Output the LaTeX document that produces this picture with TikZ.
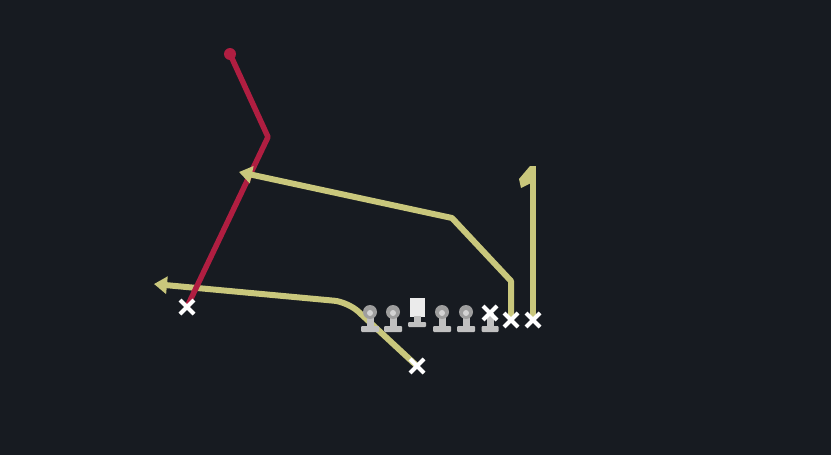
\documentclass[tikz,border=0pt]{standalone}
\usetikzlibrary{arrows.meta,shapes.misc}
\definecolor{field}{RGB}{23,27,33}
\definecolor{route}{RGB}{201,199,124}
\definecolor{redroute}{RGB}{176,30,65}
\definecolor{headgray}{RGB}{158,158,158}
\definecolor{bodygray}{RGB}{192,192,192}
\pgfdeclarelayer{turf}
\pgfdeclarelayer{routes}
\pgfsetlayers{turf,routes,main}
\tikzset{
  player/.style={cross out,draw=white,line width=4pt,minimum size=10pt,inner sep=0pt},
  pass/.style={route,line width=6pt,line join=round},
  blitz/.style={redroute,line width=5.5pt,line join=round},
  tip/.style={-{Triangle[width=17pt,length=13pt]}},
  lineman/.pic={
    \fill[bodygray] (-3.5,0) rectangle (3.5,15);
    \fill[bodygray,rounded corners=1pt] (-9,14) rectangle (9,20);
    \fill[headgray] (0,0) circle (7pt);
    \fill[bodygray!70!white] (0,1) circle (3pt);
  },
  centre/.pic={
    \fill[white!92!black] (-7.5,-14) rectangle (7.5,5);
    \fill[bodygray] (-3.5,4) rectangle (3.5,11);
    \fill[bodygray,rounded corners=1pt] (-9,10) rectangle (9,15);
  },
  tackle/.pic={
    \fill[bodygray] (-3.5,0) rectangle (3.5,14);
    \fill[bodygray,rounded corners=1pt] (-8.5,13) rectangle (8.5,19);
  }
}
\begin{document}
\begin{tikzpicture}[x=1pt,y=-1pt]
	\begin{pgfonlayer}{turf}
		\fill[field] (0,0) rectangle (831,455);
	\end{pgfonlayer}
	\useasboundingbox (0,0) rectangle (831,455);
	% line
	\pic (lg) at (370,312) {lineman};
	\pic (lt) at (393,312) {lineman};
	\pic (c) at (417,312) {centre};
	\pic (rg) at (442,312) {lineman};
	\pic (rt) at (466,312) {lineman};
	\pic (te) at (490,313) {tackle};
	% players
	\node[player] (Y) at (490,313) {};
	\node[player] (Z) at (187,307) {};
	\node[player] (S) at (511,320) {};
	\node[player] (W) at (533,320) {};
	\node[player] (B) at (417,366) {};
	% route points
	\coordinate (B1) at (348,302);
	\coordinate (B2) at (154,284);
	\coordinate (Z1) at (268,137);
	\coordinate (Z2) at (230,54);
	\coordinate (S1) at (511,281);
	\coordinate (S2) at (452,218);
	\coordinate (S3) at (239,172);
	\coordinate (W1) at (533,166);
	\begin{pgfonlayer}{routes}
		\draw[pass,tip,rounded corners=14pt] (B.center) to (B1) to (B2);
		\draw[blitz] (Z.center) to (Z1) to (Z2);
		\fill[redroute] (Z2) circle (6pt);
		\draw[pass,tip] (S.center) to (S1) to (S2) to (S3);
		\draw[pass] (W.center) to (W1);
		\fill[route] (535,166) -- (530,166) -- (519,179) -- (521,188) -- (533,182) -- cycle;
	\end{pgfonlayer}
\end{tikzpicture}
\end{document}
